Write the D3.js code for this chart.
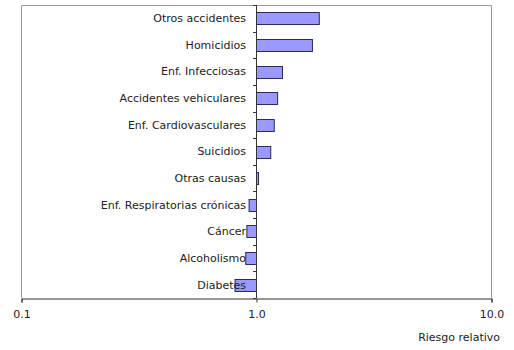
<!DOCTYPE html>
<html>
<head>
<meta charset="utf-8">
<script src="https://cdn.jsdelivr.net/npm/d3@7"></script>
<style>
  body { margin: 0; background: #fff; }
  text { font-family: "DejaVu Sans", Verdana, sans-serif; fill: #222; }
</style>
</head>
<body>
<div id="chart"></div>
<script>
// causas de muerte, de arriba hacia abajo
let causas = ["Otros accidentes", "Homicidios", "Enf. Infecciosas", "Accidentes vehiculares",
    "Enf. Cardiovasculares", "Suicidios", "Otras causas", "Enf. Respiratorias crónicas",
    "Cáncer", "Alcoholismo", "Diabetes"];
let riesgo = [1.85, 1.73, 1.29, 1.23, 1.19, 1.15, 1.02, 0.93, 0.91, 0.90, 0.81];
let xTicks = [0.1, 1, 10];
let xTickLabels = ["0.1", "1.0", "10.0"];

var width = 514,
    height = 350,
    pLeft = 21, pRight = 491, pTop = 5, pBottom = 298;

var svg = d3.select("#chart").append("svg")
    .attr("width", width)
    .attr("height", height);

var xScale = d3.scaleLog()
    .domain([0.1, 10])
    .range([pLeft, pRight]);

var yScale = d3.scaleBand()
    .domain(causas)
    .range([pTop, pBottom])
    .paddingInner(0.55)
    .paddingOuter(0.275);

// marco del area
svg.append("path")
    .attr("d", `M${pLeft + 0.5},${pBottom} V${pTop + 0.5} H${pRight + 0.5} V${pBottom}`)
    .attr("fill", "none")
    .attr("stroke", "#999")
    .attr("stroke-width", 1);

// barras
svg.selectAll("rect.bar")
    .data(riesgo)
    .enter()
    .append("rect")
    .attr("class", "bar")
    .attr("x", d => Math.min(xScale(d), xScale(1)) + 0.5)
    .attr("width", d => Math.abs(xScale(d) - xScale(1)))
    .attr("y", (d, i) => Math.round(yScale(causas[i])) + 0.5)
    .attr("height", yScale.bandwidth())
    .attr("fill", "#9999ff")
    .attr("stroke", "#2a2a55")
    .attr("stroke-width", 1);

// eje y en 1.0
var yAxis = svg.append("g");
yAxis.append("line")
    .attr("x1", xScale(1) + 0.5).attr("x2", xScale(1) + 0.5)
    .attr("y1", pTop).attr("y2", pBottom)
    .attr("stroke", "#333");
yAxis.selectAll("line.tick")
    .data(d3.range(causas.length + 1))
    .enter()
    .append("line")
    .attr("class", "tick")
    .attr("x1", xScale(1) - 3).attr("x2", xScale(1))
    .attr("y1", i => Math.round(pTop + i * (pBottom - pTop) / causas.length) + 0.5)
    .attr("y2", i => Math.round(pTop + i * (pBottom - pTop) / causas.length) + 0.5)
    .attr("stroke", "#333");

// etiquetas de categorias
svg.selectAll("text.cat")
    .data(causas)
    .enter()
    .append("text")
    .attr("class", "cat")
    .attr("x", xScale(1) - 10)
    .attr("y", d => yScale(d) + yScale.bandwidth() / 2)
    .attr("dy", "0.35em")
    .attr("text-anchor", "end")
    .style("font-size", "11px")
    .text(d => d);

// eje x
var xAxis = d3.axisBottom(xScale)
    .tickValues(xTicks)
    .tickFormat((d, i) => xTickLabels[i])
    .tickSize(4)
    .tickPadding(8);

var gx = svg.append("g")
    .attr("transform", `translate(0.5,${pBottom + 0.5})`)
    .call(xAxis);
gx.select(".domain").attr("stroke", "#333");
gx.selectAll(".tick line").attr("stroke", "#333");
gx.selectAll(".tick text")
    .style("font-size", "11px")
    .style("font-family", "DejaVu Sans, Verdana, sans-serif")
    .attr("fill", "#222");

svg.append("text")
    .attr("x", 500)
    .attr("y", 341)
    .attr("text-anchor", "end")
    .style("font-size", "11px")
    .text("Riesgo relativo");
</script>
</body>
</html>
